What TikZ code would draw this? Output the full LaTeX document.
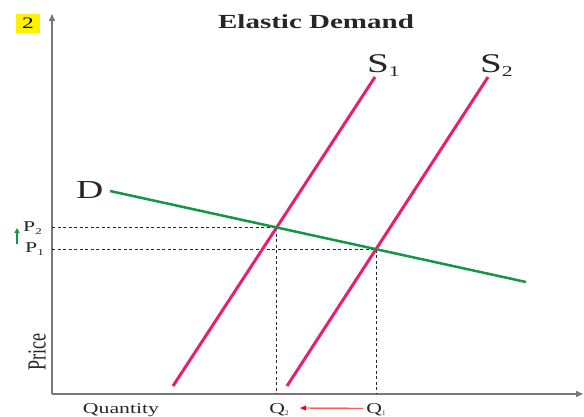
\documentclass[tikz,border=0pt]{standalone}
\usepackage{fontspec}
\setmainfont{Liberation Serif}
\usetikzlibrary{intersections,arrows.meta}
\definecolor{pinkS}{RGB}{232,30,110}
\definecolor{greenD}{RGB}{20,150,70}
\definecolor{axisgray}{RGB}{120,120,120}
\newcommand{\sx}[1]{\scalebox{1.45}[1]{#1}}
\tikzset{
  axisline/.style={draw=axisgray,line width=1.5pt,-{Triangle[length=7pt,width=6pt]},color=axisgray},
  supply/.style={draw=pinkS,line width=3pt},
  demand/.style={draw=greenD,line width=2.5pt},
  guide/.style={draw=black!85,line width=0.9pt,dash pattern=on 3pt off 2.5pt},
  lbl/.style={inner sep=0pt,text=black!85},
}
\begin{document}
\begin{tikzpicture}[x=1pt,y=-1pt]
\useasboundingbox (0,0) rectangle (584,416);
% axes
\coordinate (origin) at (52,394);
\coordinate (ytop) at (52,14);
\coordinate (xend) at (583,394);
\draw[axisline] (origin) -- (ytop);
\draw[axisline] (origin) -- (xend);
% curves
\coordinate (s1a) at (173,386);
\coordinate (s1b) at (375,77);
\coordinate (s2a) at (287,386);
\coordinate (s2b) at (488,77);
\coordinate (da) at (110,191);
\coordinate (db) at (526,282);
\path[name path=S1] (s1a) -- (s1b);
\path[name path=S2] (s2a) -- (s2b);
\path[name path=D] (da) -- (db);
\path[name intersections={of=S1 and D,by=e1}];
\path[name intersections={of=S2 and D,by=e2}];
\coordinate (p2) at (origin |- e1);
\coordinate (p1) at (origin |- e2);
\coordinate (q2) at (e1 |- origin);
\coordinate (q1) at (e2 |- origin);
\draw[guide] (p2) -- (e1) -- (q2);
\draw[guide] (p1) -- (e2) -- (q1);
\draw[supply] (s1a) -- (s1b);
\draw[supply] (s2a) -- (s2b);
\draw[demand] (da) -- (db);
% labels
\node[fill=yellow,inner sep=0pt,minimum width=24pt,minimum height=19pt] (num) at (28,23) {\fontsize{16}{16}\selectfont\sx{2}};
\node[lbl] (title) at (316,22) {\fontsize{20}{20}\selectfont\bfseries\sx{Elastic Demand}};
\node[lbl,anchor=base west] (S1l) at (367,72) {\fontsize{27}{27}\selectfont\sx{S}\raisebox{-4pt}{\fontsize{15}{15}\selectfont\sx{1}}};
\node[lbl,anchor=base west] (S2l) at (480,72) {\fontsize{27}{27}\selectfont\sx{S}\raisebox{-4pt}{\fontsize{15}{15}\selectfont\sx{2}}};
\node[lbl,anchor=base west] (Dl) at (76,198) {\fontsize{26}{26}\selectfont\sx{D}};
\node[lbl,anchor=base west] (P2l) at (23,231) {\fontsize{15}{15}\selectfont\sx{P}\raisebox{-3pt}{\fontsize{9}{9}\selectfont\sx{2}}};
\node[lbl,anchor=base west] (P1l) at (25,252) {\fontsize{15}{15}\selectfont\sx{P}\raisebox{-3pt}{\fontsize{9}{9}\selectfont\sx{1}}};
\coordinate (ga) at (17,244);
\coordinate (gb) at (17,228);
\draw[greenD,line width=1.2pt,-{Triangle[length=5pt,width=5pt]}] (ga) -- (gb);
\node[lbl,rotate=90] (price) at (37,352) {\fontsize{18}{18}\selectfont\scalebox{1}[1.45]{Price}};
\node[lbl,anchor=base] (qty) at (121,413) {\fontsize{15}{15}\selectfont\sx{Quantity}};
\node[lbl,anchor=base] (Q2l) at (279,413) {\fontsize{15}{15}\selectfont\sx{Q}\raisebox{-2pt}{\fontsize{7}{7}\selectfont 2}};
\node[lbl,anchor=base] (Q1l) at (376,413) {\fontsize{15}{15}\selectfont\sx{Q}\raisebox{-2pt}{\fontsize{7}{7}\selectfont 1}};
\draw[red,line width=0.9pt,-{Triangle[length=6pt,width=5pt]}] (Q1l.west) ++(-3,-1) coordinate (ra) -- (300,408) coordinate (rb);
\end{tikzpicture}
\end{document}
